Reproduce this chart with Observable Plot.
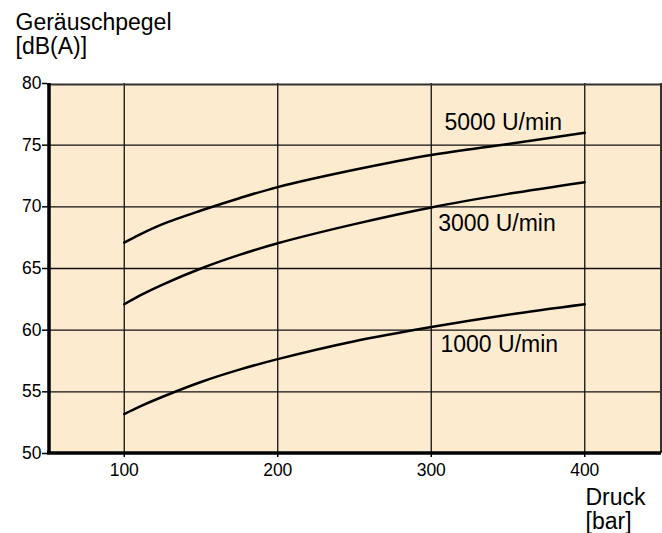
<!DOCTYPE html>
<html>
<head>
<meta charset="utf-8">
<script src="https://cdn.jsdelivr.net/npm/d3@7"></script>
<script src="https://cdn.jsdelivr.net/npm/@observablehq/plot@0.6"></script>
<style>
  html, body { margin: 0; padding: 0; background: #ffffff; }
  #chart svg { display: block; }
</style>
</head>
<body>
<div id="chart"></div>
<script>
// Data
const pressure = [100, 110, 125, 150, 175, 200, 250, 300, 350, 400];
const level5000 = [67.1, 67.75, 68.6, 69.7, 70.7, 71.6, 73.0, 74.2, 75.1, 76.0];
const level3000 = [62.1, 62.8, 63.7, 65.0, 66.1, 67.05, 68.6, 69.95, 71.05, 72.0];
const level1000 = [53.2, 53.8, 54.6, 55.8, 56.8, 57.65, 59.1, 60.25, 61.25, 62.1];

const seriesNames = ["5000 U/min", "3000 U/min", "1000 U/min"];
const labelX = [308.6, 304.5, 306];
const labelY = [76.8, 68.6, 58.8];

const xTicks = [100, 200, 300, 400];
const yTicks = [50, 55, 60, 65, 70, 75, 80];
const xGrid = [100, 200, 300, 400];
const yGrid = [55, 60, 65, 70, 75];

const yTitle = "Geräuschpegel\n[dB(A)]";
const xTitle = "Druck\n[bar]";

const allLevels = [level5000, level3000, level1000];
const rows = [];
seriesNames.forEach((name, i) => {
  pressure.forEach((p, j) => rows.push({series: name, p, v: allLevels[i][j]}));
});
const labels = seriesNames.map((name, i) => ({text: name, x: labelX[i], y: labelY[i]}));

const font = "'Liberation Sans', Arial, Helvetica, sans-serif";

const chart = Plot.plot({
  width: 662,
  height: 533,
  marginLeft: 47,
  marginRight: 1,
  marginTop: 83,
  marginBottom: 80,
  style: {fontFamily: font, fontSize: "17.5px", background: "#ffffff", color: "#000"},
  x: {domain: [50, 450]},
  y: {domain: [50, 80]},
  marks: [
    Plot.frame({fill: "#fdebd0", stroke: "none"}),
    Plot.ruleX(xGrid, {stroke: "#111", strokeWidth: 1.3}),
    Plot.ruleY(yGrid, {stroke: "#111", strokeWidth: 1.3}),
    Plot.ruleY([80], {stroke: "#333", strokeWidth: 2, dy: 1}),
    Plot.ruleX([450], {stroke: "#333", strokeWidth: 2, dx: -0.5}),
    Plot.ruleX([50], {stroke: "#000", strokeWidth: 3.5, dx: 1.5}),
    Plot.ruleY([50], {stroke: "#000", strokeWidth: 3.5, dy: -0.5}),
    Plot.line(rows, {x: "p", y: "v", z: "series", stroke: "#000", strokeWidth: 2.5, curve: "catmull-rom"}),
    Plot.text(labels, {x: "x", y: "y", text: "text", textAnchor: "start", fontSize: 23, fill: "#000"}),
    Plot.axisX({ticks: xTicks, tickSize: 4, tickPadding: 6, fontSize: 17.5, label: null, stroke: "#000", strokeWidth: 1.5}),
    Plot.axisY({ticks: yTicks, tickSize: 5, tickPadding: 1, fontSize: 17.5, label: null, stroke: "#000", strokeWidth: 1.5}),
    Plot.text([yTitle], {frameAnchor: "top-left", textAnchor: "start", lineAnchor: "top", dx: -32, dy: -70, fontSize: 23, lineHeight: 1.04, fill: "#000"}),
    Plot.text([xTitle], {frameAnchor: "bottom-right", textAnchor: "start", lineAnchor: "top", dx: -76, dy: 34, fontSize: 23, lineHeight: 1.06, fill: "#000"})
  ]
});
document.getElementById("chart").appendChild(chart);
</script>
</body>
</html>
